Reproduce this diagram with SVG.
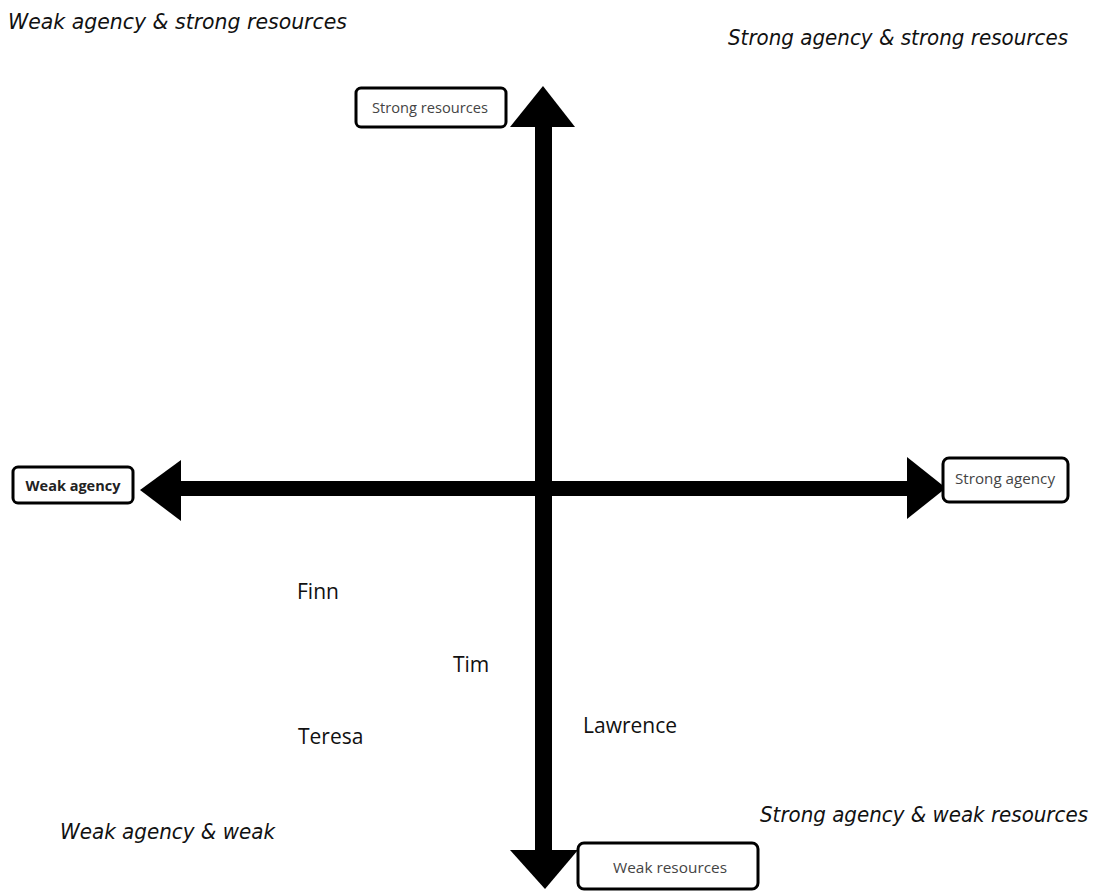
<svg xmlns="http://www.w3.org/2000/svg" width="1099" height="892" viewBox="0 0 1099 892">
  <style>
    .quad { font-family: "DejaVu Sans", sans-serif; font-style: italic; font-size: 20.5px; fill: #111; }
    .name { font-family: "Open Sans", sans-serif; font-size: 21px; fill: #111; }
    .box { fill: #fff; stroke: #000; stroke-width: 3; }
    .boxtxt { font-family: "Open Sans", sans-serif; font-size: 15px; fill: #444; text-anchor: middle; }
    .axis { fill: #000; }
  </style>
  <rect width="1099" height="892" fill="#fff"/>

  <!-- quadrant captions -->
  <text class="quad" x="8" y="29" textLength="339" lengthAdjust="spacingAndGlyphs">Weak agency &amp; strong resources</text>
  <text class="quad" x="728" y="45" textLength="340" lengthAdjust="spacingAndGlyphs">Strong agency &amp; strong resources</text>
  <text class="quad" x="60" y="839" textLength="215" lengthAdjust="spacingAndGlyphs">Weak agency &amp; weak</text>
  <text class="quad" x="760" y="822" textLength="328" lengthAdjust="spacingAndGlyphs">Strong agency &amp; weak resources</text>

  <!-- axes -->
  <g id="connectors">
    <!-- vertical axis -->
    <rect class="axis" x="535" y="120" width="17" height="735"/>
    <polygon class="axis" points="543,86 575,127 510,127"/>
    <polygon class="axis" points="545,889 578,850 510,850"/>
    <!-- horizontal axis -->
    <rect class="axis" x="175" y="481" width="740" height="15"/>
    <polygon class="axis" points="140,490 181,460 181,521"/>
    <polygon class="axis" points="946,488 907,457 907,519"/>
  </g>

  <g id="strong-resources">
    <rect class="box" x="356" y="88" width="150" height="39" rx="5"/>
    <text class="boxtxt" x="430" y="113" textLength="116" lengthAdjust="spacingAndGlyphs">Strong resources</text>
  </g>
  <g id="weak-agency">
    <rect class="box" x="13" y="467" width="120" height="36" rx="5"/>
    <text class="boxtxt" x="73" y="491" style="font-weight:bold;font-size:14.5px;fill:#222">Weak agency</text>
  </g>
  <g id="strong-agency">
    <rect class="box" x="943" y="458" width="125" height="44" rx="6"/>
    <text class="boxtxt" x="1005" y="484" textLength="100" lengthAdjust="spacingAndGlyphs">Strong agency</text>
  </g>
  <g id="weak-resources">
    <rect class="box" x="578" y="843" width="180" height="46" rx="6"/>
    <text class="boxtxt" x="670" y="873" textLength="114" lengthAdjust="spacingAndGlyphs">Weak resources</text>
  </g>

  <!-- people -->
  <g id="finn"><text class="name" x="297" y="599">Finn</text></g>
  <g id="tim"><text class="name" x="453" y="672">Tim</text></g>
  <g id="teresa"><text class="name" x="298" y="744">Teresa</text></g>
  <g id="lawrence"><text class="name" x="583" y="733">Lawrence</text></g>
</svg>
